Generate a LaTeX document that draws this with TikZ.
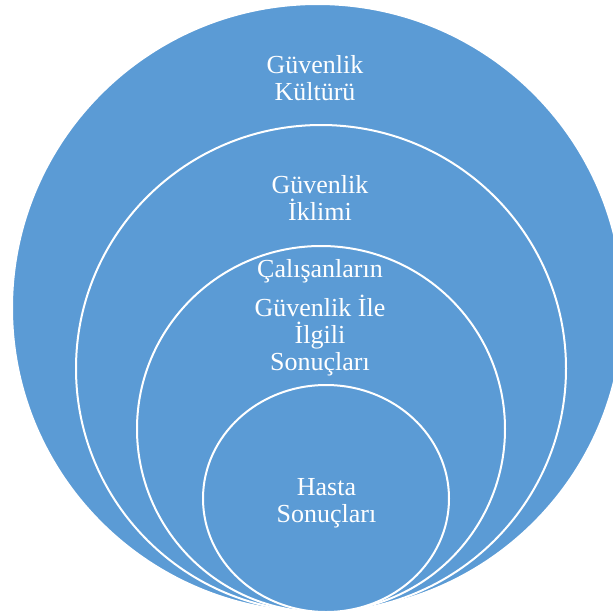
\documentclass[tikz,border=0pt]{standalone}
\usepackage{fontspec}
\setmainfont{Liberation Serif}
\usetikzlibrary{shapes.geometric}
\definecolor{ringblue}{HTML}{5B9BD5}

\begin{document}
\begin{tikzpicture}[x=1pt, y=-1pt, every node/.style={font=\fontsize{26}{27}\selectfont}]
            \useasboundingbox (0,0) rectangle (613,614);
            \clip (0,0) rectangle (613,614);

            % Rings, outermost first
            \node[ellipse, draw=white, line width=2pt, fill=ringblue, inner sep=0pt, minimum width=611pt, minimum height=608pt] (culture) at (317.5,308) {};
            \node[ellipse, draw=white, line width=2pt, fill=ringblue, inner sep=0pt, minimum width=490pt, minimum height=487pt] (climate) at (321,368.5) {};
            \node[ellipse, draw=white, line width=2pt, fill=ringblue, inner sep=0pt, minimum width=368pt, minimum height=366pt] (staff) at (321,429) {};
            \node[ellipse, draw=white, line width=2pt, fill=ringblue, inner sep=0pt, minimum width=246pt, minimum height=227pt] (patient) at (326,498.5) {};

            % Labels (base anchor sits on the last line)
            \node[text=white, align=center, anchor=base] (cultureText) at (315,100) {Güvenlik\\Kültürü};
            \node[text=white, align=center, anchor=base] (climateText) at (320,220) {Güvenlik\\İklimi};
            \node[text=white, anchor=base] (staffTop) at (320,277) {Çalışanların};
            \node[text=white, align=center, anchor=base] (staffText) at (320,370) {Güvenlik İle\\İlgili\\Sonuçları};
            \node[text=white, align=center, anchor=base] (patientText) at (326.5,522) {Hasta\\Sonuçları};
        \end{tikzpicture}
\end{document}
